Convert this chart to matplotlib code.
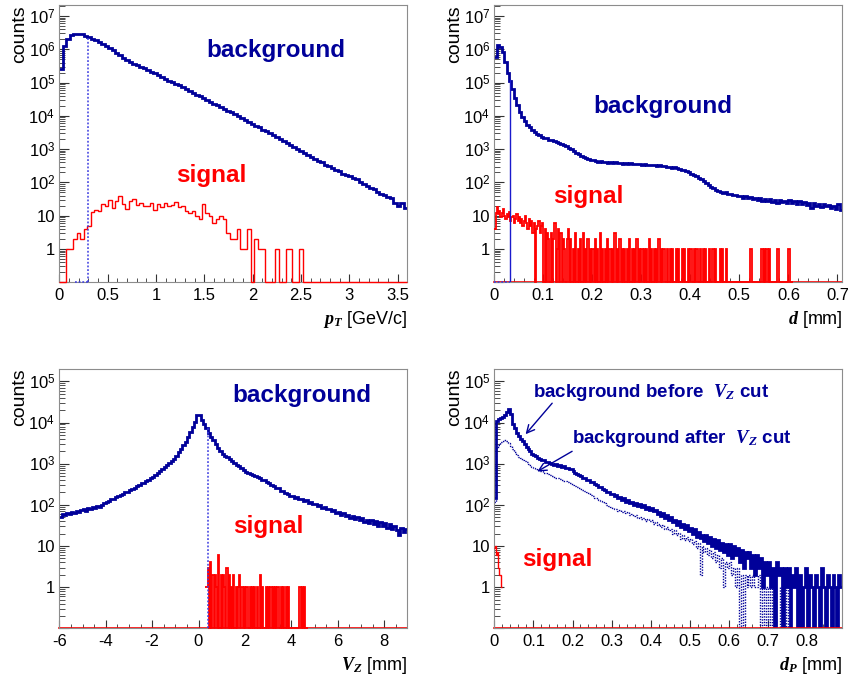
import numpy as np
import matplotlib
matplotlib.use("Agg")
import matplotlib.pyplot as plt
from matplotlib.ticker import LogLocator, FuncFormatter, MultipleLocator, NullFormatter

plt.rcParams['font.family'] = ['Liberation Sans', 'DejaVu Sans']
plt.rcParams['mathtext.fontset'] = 'custom'
plt.rcParams['mathtext.rm'] = 'Liberation Sans'
plt.rcParams['mathtext.it'] = 'Liberation Serif:italic:bold'
plt.rcParams['mathtext.bf'] = 'Liberation Sans:bold'

# ---------------- transverse momentum (0 - 3.6 GeV/c, 100 bins) ----------------
pt_range = (0.0, 3.6)
pt_bkg = [2.5e5, 1.26e6, 2.0e6, 2.63e6, 2.95e6, 2.95e6, 2.82e6, 2.57e6, 2.29e6, 2.09e6,
          1.91e6, 1.70e6, 1.48e6, 1.29e6, 1.10e6, 9.5e5, 7.9e5, 6.6e5, 5.5e5, 4.7e5,
          4.1e5, 3.6e5, 3.3e5, 2.95e5, 2.7e5, 2.4e5, 2.14e5, 1.9e5, 1.66e5, 1.45e5,
          1.29e5, 1.15e5, 1.05e5, 9.3e4, 8.3e4, 7.4e4, 6.6e4, 5.75e4, 5.0e4, 4.4e4,
          3.9e4, 3.4e4, 3.0e4, 2.7e4, 2.35e4, 2.1e4, 1.86e4, 1.62e4, 1.45e4, 1.29e4,
          1.12e4, 9.8e3, 8.5e3, 7.4e3, 6.5e3, 5.6e3, 5.0e3, 4.5e3, 3.9e3, 3.5e3,
          3.0e3, 2.6e3, 2.3e3, 2.0e3, 1.74e3, 1.51e3, 1.32e3, 1.15e3, 1.0e3, 870,
          760, 680, 600, 525, 457, 417, 339, 309, 263, 229,
          214, 174, 166, 155, 135, 126, 105, 89, 79, 69,
          65, 50, 46, 43, 36, 35, 24, 20, 24, 17]
pt_sig = [0, 0, 1, 1, 2, 3, 2, 4, 5, 13,
          15, 14, 22, 19, 30, 17, 28, 38, 22, 16,
          27, 32, 21, 25, 20, 19, 24, 15, 22, 18,
          24, 19, 21, 26, 18, 19, 14, 12, 14, 10,
          8, 22, 12, 10, 6, 8, 10, 8, 3, 2,
          2, 4, 1, 1, 4, 0, 2, 1, 1, 0,
          0, 0, 1, 0, 0, 1, 1, 0, 0, 1,
          0, 0, 0, 0, 0, 0, 0, 0, 0, 0,
          0, 0, 0, 0, 0, 0, 0, 0, 0, 0,
          0, 0, 0, 0, 0, 0, 0, 0, 0, 0]
pt_cut = 0.3
pt_cut_top = 2.3e6

# ---------------- distance d (0 - 0.71 mm) ----------------
d_range = (0.0, 0.71)
d_bkg_width = 0.005
d_bkg = [6.0e5, 1.4e6, 1.2e6, 8.5e5, 4.2e5, 2.0e5, 1.12e5, 6.3e4, 3.5e4, 2.1e4,
         1.3e4, 9.1e3, 6.9e3, 5.5e3, 4.5e3, 3.8e3, 3.2e3, 2.9e3, 2.6e3, 2.4e3,
         2.24e3, 2.1e3, 1.95e3, 1.86e3, 1.74e3, 1.62e3, 1.55e3, 1.45e3, 1.35e3, 1.23e3,
         1.10e3, 1.0e3, 890, 795, 710, 645, 590, 537, 500, 479,
         460, 440, 420, 430, 400, 415, 395, 410, 385, 400,
         380, 395, 370, 385, 365, 375, 360, 370, 350, 362,
         345, 355, 338, 345, 330, 335, 318, 325, 305, 310,
         295, 300, 280, 285, 265, 258, 245, 235, 215, 200,
         185, 170, 155, 140, 128, 112, 98, 84, 74, 66,
         60, 55, 52, 48, 50, 44, 46, 41, 43, 38,
         40, 35, 38, 33, 36, 31, 34, 30, 33, 28,
         31, 27, 32, 26, 29, 25, 30, 26, 28, 24,
         29, 25, 27, 23, 28, 22, 26, 21, 25, 17,
         24, 20, 23, 18, 22, 19, 21, 17, 20, 16,
         22, 15]
d_sig_width = 0.0025
d_sig = [4, 12, 18, 11, 14, 9, 12, 16, 10, 8, 11, 9, 13, 7, 9, 10, 6, 8, 11, 7,
         9, 6, 8, 5, 7, 10, 6, 4, 8, 5, 7, 3, 6, 0, 4, 5, 7, 3, 5, 6,
         0, 4, 0, 3, 2, 0, 3, 0, 2, 6, 0, 1, 4, 0, 3, 0, 2, 1, 0, 2,
         4, 0, 2, 0, 1, 0, 3, 0, 1, 0, 2, 0, 3, 0, 1, 0, 2, 0, 1, 0,
         1, 0, 2, 0, 1, 0, 3, 0, 1, 0, 1, 0, 2, 0, 1, 0, 1, 0, 3, 0,
         1, 0, 2, 0, 1, 0, 1, 0, 1, 0, 2, 0, 1, 0, 1, 0, 2, 0, 1, 0,
         1, 0, 1, 0, 1, 0, 2, 0, 1, 0, 1, 0, 1, 0, 2, 0, 1, 0, 1, 0,
         0, 1, 0, 1, 0, 1, 0, 0, 1, 0, 1, 0, 0, 1, 0, 1, 0, 0, 1, 0,
         1, 0, 0, 1, 0, 1, 0, 0, 1, 0, 1, 0, 1, 0, 0, 1, 0, 0, 1, 0,
         1, 0, 0, 0, 1, 0, 1, 0, 0, 1, 0, 0, 0, 0, 0, 0, 0, 0, 0, 0,
         0, 0, 0, 0, 0, 0, 0, 0, 0, 1, 0, 0, 0, 0, 0, 0, 0, 0, 1, 0,
         1, 0, 1, 0, 1, 0, 0, 0, 0, 0, 0, 1, 0, 0, 0, 0, 0, 0, 0, 0,
         1, 0, 0, 0]
d_cut = 0.032
d_cut_top = 1.2e5

# ---------------- vertex z (-6 - 9 mm) ----------------
vz_range = (-6.0, 9.0)
vz_bkg_width = 0.1
vz_bkg = [52, 60, 57, 63, 59, 66, 62, 70, 66, 74,
          78, 72, 84, 80, 88, 83, 95, 90, 101, 108,
          119, 125, 138, 142, 156, 160, 178, 184, 203, 208,
          225, 248, 260, 287, 300, 332, 348, 384, 404, 446,
          483, 540, 603, 673, 752, 840, 938, 1048, 1170, 1307,
          1528, 1873, 2296, 2815, 3451, 4395, 5870, 7840, 10470, 15200,
          15000, 11480, 9120, 7240, 5620, 4570, 3720, 3020, 2450, 2000,
          1740, 1570, 1420, 1290, 1160, 1050, 950, 860, 780, 705,
          646, 600, 575, 528, 505, 462, 448, 405, 392, 356,
          335, 300, 292, 258, 252, 222, 218, 190, 188, 166,
          168, 150, 152, 136, 140, 124, 128, 112, 116, 103,
          106, 94, 97, 85, 90, 78, 80, 70, 74, 63,
          68, 58, 63, 54, 58, 49, 54, 45, 50, 42,
          47, 39, 44, 36, 42, 34, 40, 31, 38, 30,
          36, 28, 34, 26, 31, 25, 18, 27, 22, 26]
vz_sig_start = 0.3
vz_sig_width = 0.05
vz_sig = [1, 1, 3, 0, 4, 0, 2, 0, 2, 1,
          0, 6, 0, 2, 0, 2, 1, 0, 3, 0,
          2, 0, 1, 0, 2, 0, 1, 0, 1, 2,
          0, 1, 0, 1, 0, 1, 1, 0, 1, 0,
          1, 0, 1, 0, 1, 0, 0, 2, 0, 1,
          0, 0, 1, 0, 1, 0, 1, 0, 1, 0,
          1, 0, 1, 0, 0, 1, 0, 1, 0, 1,
          0, 1, 0, 0, 0, 0, 0, 0, 0, 0,
          0, 1, 0, 1, 0, 1, 0, 0]
vz_cut = 0.4
vz_cut_top = 7200

# ---------------- distance d_P (0 - 0.89 mm) ----------------
dp_range = (0.0, 0.89)
dp_bkg_width = 0.005
dp_before = [150, 10700, 12000, 12900, 13800, 15500, 17800, 21400, 15800, 9300,
             7200, 5600, 4600, 4000, 3470, 2950, 2570, 2240, 2000, 1740,
             1620, 1510, 1410, 1320, 1260, 1200, 1120, 1070, 1020, 980,
             950, 960, 900, 905, 850, 860, 800, 805, 750, 740,
             660, 600, 575, 520, 500, 460, 445, 400, 395, 355,
             355, 318, 310, 275, 270, 240, 235, 208, 205, 180,
             185, 165, 170, 148, 155, 132, 146, 120, 128, 112,
             118, 101, 110, 95, 104, 88, 97, 80, 90, 76,
             84, 70, 75, 61, 68, 55, 62, 49, 56, 43,
             50, 38, 44, 33, 40, 29, 35, 26, 32, 23,
             28, 20, 26, 17, 22, 16, 19, 13, 18, 12,
             17, 10, 15, 9, 14, 8, 12, 7, 11, 6,
             11, 5, 10, 6, 9, 4, 8, 3, 7, 5,
             7, 3, 6, 2, 6, 3, 5, 1, 4, 2,
             4, 1, 3, 0, 4, 2, 3, 0, 3, 1,
             3, 0, 2, 1, 3, 0, 2, 0, 1, 3,
             0, 2, 1, 0, 2, 1, 0, 3, 1, 0,
             2, 1, 0, 2, 1, 0, 2, 1]
dp_after = [120, 2400, 2800, 3300, 3630, 3700, 3550, 3160, 2690, 2240,
            1900, 1660, 1480, 1350, 1260, 1175, 1100, 1000, 910, 830,
            780, 735, 715, 670, 650, 610, 595, 555, 540, 505,
            480, 455, 445, 415, 405, 380, 372, 350, 340, 322,
            310, 285, 275, 255, 245, 225, 215, 200, 190, 176,
            165, 150, 145, 130, 125, 115, 110, 100, 96, 88,
            86, 78, 80, 72, 74, 67, 70, 62, 66, 58,
            60, 53, 56, 49, 52, 45, 48, 41, 46, 40,
            42, 35, 39, 32, 35, 29, 32, 26, 29, 24,
            26, 20, 24, 18, 21, 15, 19, 14, 17, 13,
            15, 11, 13, 9, 12, 2, 10, 7, 9, 6,
            8, 5, 7, 4, 6, 3, 5, 1, 4, 3,
            4, 2, 3, 1, 3, 0, 2, 0, 2, 1,
            2, 1, 2, 1, 1, 2, 0, 1, 0, 1,
            0, 1, 0, 1, 0, 0, 1, 0, 1, 0,
            1, 0]
dp_sig_width = 0.0025
dp_sig = [9, 10, 6, 7, 3, 2, 2, 1]

BLUE = '#000099'
CUT_BLUE = '#3a3ae0'
RED = '#ff0000'
FLOOR = 0.1


def log_label(v, pos):
    if v < 0.99:
        return ''
    if abs(v - 1) < 1e-6:
        return '1'
    if abs(v - 10) < 1e-5:
        return '10'
    return r'$10^{%d}$' % int(round(np.log10(v)))


def style_axes(ax, xlim, ytop, xmajor, xminor):
    ax.set_yscale('log')
    ax.set_xlim(*xlim)
    ax.set_ylim(FLOOR, ytop)
    ax.xaxis.set_major_locator(MultipleLocator(xmajor))
    ax.xaxis.set_minor_locator(MultipleLocator(xminor))
    ax.xaxis.set_major_formatter(FuncFormatter(lambda v, p: '%g' % (round(v, 6) + 0.0)))
    ax.yaxis.set_major_locator(LogLocator(base=10, numticks=20))
    ax.yaxis.set_minor_locator(LogLocator(base=10, subs=np.arange(2, 10), numticks=60))
    ax.yaxis.set_major_formatter(FuncFormatter(log_label))
    ax.yaxis.set_minor_formatter(NullFormatter())
    ax.tick_params(which='both', direction='in', top=False, right=False, color='#333333')
    ax.tick_params(axis='y', which='major', length=7.5, width=0.8, pad=3, labelsize=12)
    ax.tick_params(axis='y', which='minor', length=4, width=0.6)
    ax.tick_params(axis='x', which='major', length=5.5, width=0.8, pad=4, labelsize=12)
    ax.tick_params(axis='x', which='minor', length=3, width=0.6)
    for sp in ax.spines.values():
        sp.set_color('#8c8c8c')
        sp.set_linewidth(0.8)


def draw_hist(ax, values, start, width, clip=True, **kw):
    vals = np.maximum(np.asarray(values, dtype=float), FLOOR)
    edges = start + width * np.arange(len(vals) + 1)
    art = ax.stairs(vals, edges, baseline=None, **kw)
    art.set_clip_on(clip)
    return art


fig = plt.figure(figsize=(8.48, 6.83), dpi=100)
W, H = 848.0, 683.0


def add_panel(left, top, right, bottom):
    return fig.add_axes([left / W, 1 - bottom / H, (right - left) / W, (bottom - top) / H])


ax1 = add_panel(59.3, 4.7, 407.3, 282.3)
ax2 = add_panel(494.3, 4.7, 842.3, 282.3)
ax3 = add_panel(59.3, 369.0, 407.3, 628.3)
ax4 = add_panel(494.3, 369.0, 842.3, 628.3)

# ---- p_T ----
style_axes(ax1, pt_range, 2.2e7, 0.5, 0.1)
pt_w = (pt_range[1] - pt_range[0]) / len(pt_bkg)
draw_hist(ax1, pt_bkg, pt_range[0], pt_w, color=BLUE, lw=2.0, zorder=2)
draw_hist(ax1, pt_sig, pt_range[0], pt_w, clip=False, color=RED, lw=1.0, zorder=3)
ax1.plot([pt_cut, pt_cut], [FLOOR, pt_cut_top], ls=(0, (1.2, 1.2)), color=CUT_BLUE, lw=1.1, zorder=4)
ax1.plot([0.16, pt_cut], [FLOOR, FLOOR], ls=(0, (1.2, 1.2)), color=CUT_BLUE, lw=1.1, zorder=4, clip_on=False)
ax1.text(1.52, 5.75e5, 'background', color=BLUE, fontsize=17.5, fontweight='bold', va='baseline')
ax1.text(1.21, 100, 'signal', color=RED, fontsize=17.5, fontweight='bold', va='baseline')

# ---- d ----
style_axes(ax2, d_range, 2.2e7, 0.1, 0.02)
draw_hist(ax2, d_bkg, d_range[0], d_bkg_width, color=BLUE, lw=2.0, zorder=2)
ax2.axhline(FLOOR, color=RED, lw=1.2, clip_on=False, zorder=2.5)
draw_hist(ax2, d_sig, d_range[0], d_sig_width, clip=False, color=RED, lw=1.3, zorder=3)
ax2.plot([d_cut, d_cut], [FLOOR, d_cut_top], color='#1a1acc', lw=1.0, zorder=4)
ax2.plot([0.0, d_cut], [FLOOR, FLOOR], ls=(0, (1.2, 1.2)), color=CUT_BLUE, lw=1.1, zorder=4, clip_on=False)
ax2.text(0.202, 1.2e4, 'background', color=BLUE, fontsize=17.5, fontweight='bold', va='baseline')
ax2.text(0.120, 24, 'signal', color=RED, fontsize=17.5, fontweight='bold', va='baseline')

# ---- V_Z ----
style_axes(ax3, vz_range, 2.0e5, 2, 0.5)
draw_hist(ax3, vz_bkg, vz_range[0], vz_bkg_width, color=BLUE, lw=2.0, zorder=2)
ax3.axhline(FLOOR, color=RED, lw=1.2, clip_on=False, zorder=2.5)
draw_hist(ax3, vz_sig, vz_sig_start, vz_sig_width, clip=False, color=RED, lw=1.3, zorder=3)
ax3.plot([vz_cut, vz_cut], [FLOOR, vz_cut_top], ls=(0, (1.2, 1.2)), color=CUT_BLUE, lw=1.1, zorder=4)
ax3.text(1.48, 3.16e4, 'background', color=BLUE, fontsize=17.5, fontweight='bold', va='baseline')
ax3.text(1.48, 21, 'signal', color=RED, fontsize=17.5, fontweight='bold', va='baseline')

# ---- d_P ----
style_axes(ax4, dp_range, 2.0e5, 0.1, 0.02)
draw_hist(ax4, dp_after, dp_range[0], dp_bkg_width, color=BLUE, lw=1.0, ls=(0, (1, 1)), zorder=2)
draw_hist(ax4, dp_before, dp_range[0], dp_bkg_width, color=BLUE, lw=2.0, zorder=2.2)
ax4.axhline(FLOOR, color=RED, lw=1.2, clip_on=False, zorder=2.5)
draw_hist(ax4, dp_sig, dp_range[0], dp_sig_width, clip=False, color=RED, lw=1.0, zorder=3)
ax4.text(0.0996, 4.2e4, r'background before  $V_Z$ cut', color=BLUE, fontsize=13.5,
         fontweight='bold', va='baseline')
ax4.text(0.199, 3.2e3, r'background after  $V_Z$ cut', color=BLUE, fontsize=13.5,
         fontweight='bold', va='baseline')
arrow = dict(arrowstyle='->', color=BLUE, lw=1.0, shrinkA=0, shrinkB=0, mutation_scale=14)
ax4.annotate('', xy=(0.080, 5.2e3), xytext=(0.148, 2.95e4), arrowprops=arrow)
ax4.annotate('', xy=(0.110, 646), xytext=(0.199, 2.0e3), arrowprops=arrow)
ax4.text(0.07, 3.2, 'signal', color=RED, fontsize=17.5, fontweight='bold', va='baseline')

# ---- axis titles ----
fig.text(407.3 / W, 1 - 320 / H, r'$p_T$ [GeV/c]', ha='right', va='center', fontsize=13)
fig.text(842.3 / W, 1 - 320 / H, r'$d$ [mm]', ha='right', va='center', fontsize=13)
fig.text(407.3 / W, 1 - 665 / H, r'$V_Z$ [mm]', ha='right', va='center', fontsize=13)
fig.text(842.3 / W, 1 - 665 / H, r'$d_P$ [mm]', ha='right', va='center', fontsize=13)
for x, y in [(19.3, 5), (454.7, 5), (19.3, 368), (454.7, 368)]:
    fig.text(x / W, 1 - y / H, 'counts', rotation=90, ha='center', va='top', fontsize=14)

fig.savefig('out.png', dpi=100, facecolor='white')
